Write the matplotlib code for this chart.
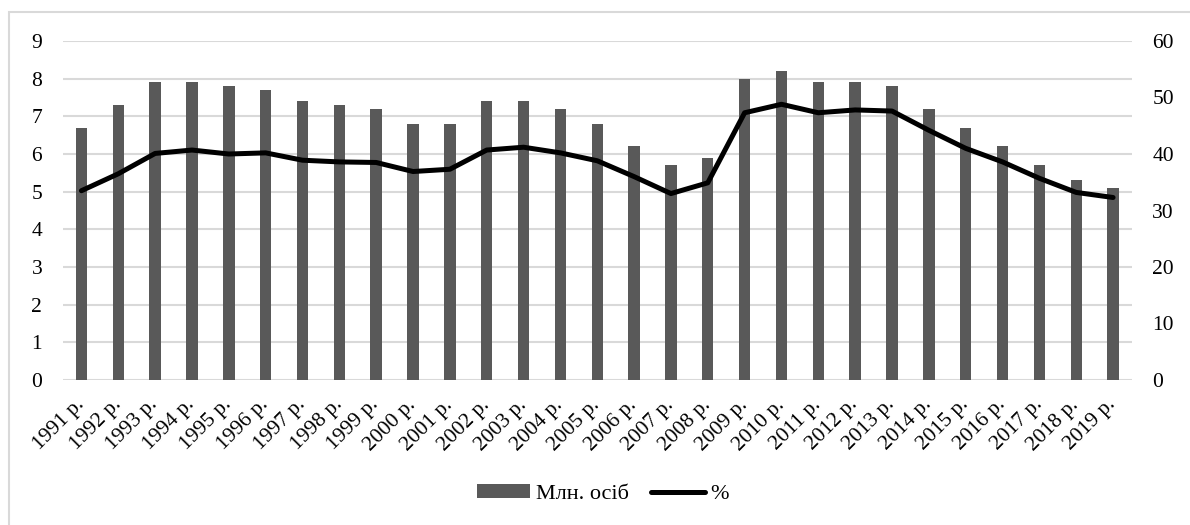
import numpy as np
import matplotlib
matplotlib.use("Agg")
import matplotlib.pyplot as plt
from matplotlib.patches import Rectangle

plt.rcParams['font.family'] = ['Liberation Serif', 'DejaVu Serif']

years = [f"{y} р." for y in range(1991, 2020)]
mln_persons = [6.7, 7.3, 7.9, 7.9, 7.8, 7.7, 7.4, 7.3, 7.2, 6.8,
               6.8, 7.4, 7.4, 7.2, 6.8, 6.2, 5.7, 5.9, 8.0, 8.2,
               7.9, 7.9, 7.8, 7.2, 6.7, 6.2, 5.7, 5.3, 5.1]
percent = [33.5, 36.5, 40.1, 40.7, 40.0, 40.2, 38.9, 38.6, 38.5, 36.9,
           37.3, 40.7, 41.2, 40.2, 38.8, 36.0, 33.0, 34.9, 47.3, 48.8,
           47.3, 47.8, 47.6, 44.2, 41.0, 38.6, 35.7, 33.2, 32.3]

W, H = 1190, 525
fig = plt.figure(figsize=(W / 100, H / 100), dpi=100)
left, right, top, bottom = 63, 1131.5, 41, 380
ax = fig.add_axes([left / W, 1 - bottom / H, (right - left) / W, (bottom - top) / H])

# outer frame of the chart (only left and top edges are inside the picture)
fig.patches.append(Rectangle((9 / W, -0.1), 1.2, 1 - 12 / H + 0.1,
                             transform=fig.transFigure, fill=False,
                             edgecolor='#d9d9d9', linewidth=1.5))

x = np.arange(len(years))
bars = ax.bar(x, mln_persons, width=0.31, color='#595959', zorder=2)
ax.set_ylim(0, 9)
ax.set_xlim(-0.5, len(years) - 0.5)
ax.set_yticks(range(0, 10))
ax.grid(axis='y', color='#d9d9d9', linewidth=1.5, zorder=0)
ax.set_axisbelow(True)
for s in ax.spines.values():
    s.set_visible(False)
ax.tick_params(axis='both', length=0, labelsize=15.5, colors='black')
ax.tick_params(axis='y', pad=15)
ax.set_xticks(x)
ax.set_xticklabels(years, rotation=45, ha='right', va='center', rotation_mode='anchor')
ax.tick_params(axis='x', pad=16)

ax2 = ax.twinx()
line, = ax2.plot(x, percent, color='black', linewidth=3.6,
                 solid_capstyle='round', zorder=3)
ax2.set_ylim(0, 60)
ax2.set_yticks(range(0, 61, 10))
for s in ax2.spines.values():
    s.set_visible(False)
ax2.tick_params(axis='y', length=0, labelsize=15.5, colors='black', pad=15)

fig.legend([bars, line], ['Млн. осіб', '%'], loc='center', bbox_to_anchor=(603 / W, 1 - 494 / H),
           ncol=2, frameon=False, fontsize=16, handlelength=2.4, handleheight=0.55,
           handletextpad=0.27, columnspacing=1.0, borderpad=0)

fig.savefig('out.png', dpi=100)
